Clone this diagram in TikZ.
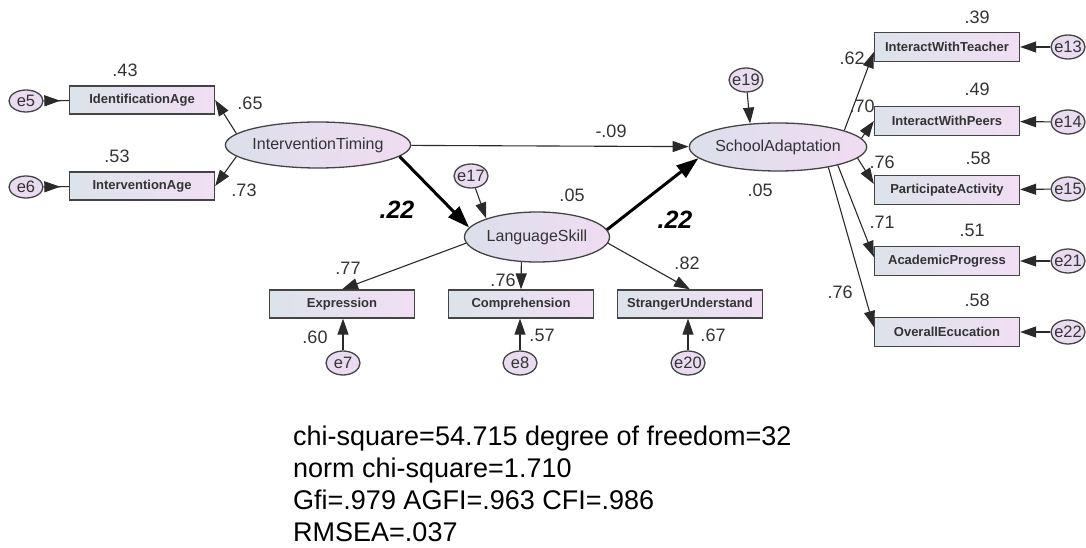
\documentclass[tikz,border=0pt]{standalone}
\usepackage{fontspec}
\setmainfont{Liberation Sans}
\usetikzlibrary{arrows.meta,shapes.geometric,calc,decorations.markings}

\definecolor{edgec}{HTML}{444444}
\definecolor{linec}{HTML}{2A2A2A}
\definecolor{textc}{HTML}{333333}
\definecolor{boxL}{HTML}{DCE3EA}
\definecolor{boxR}{HTML}{F1DEF4}
\definecolor{latL}{HTML}{DCDFEB}
\definecolor{latR}{HTML}{F0DCF2}
\definecolor{errc}{HTML}{E9DCF1}

% zero-width label so that the error ellipses keep their fixed size
\newcommand{\slim}[1]{\makebox[0pt]{#1}}

\tikzset{
  obs/.style={rectangle, draw=edgec, line width=1.3pt, left color=boxL, right color=boxR,
    minimum width=145pt, minimum height=28pt, inner sep=0pt,
    font=\fontsize{13}{15}\selectfont\bfseries, text=textc},
  lat/.style={ellipse, draw=edgec, line width=1.3pt, left color=latL, right color=latR,
    inner sep=0pt, font=\fontsize{16}{18}\selectfont, text=textc},
  err/.style={ellipse, draw=edgec, line width=1.3pt, fill=errc, minimum width=34pt,
    minimum height=24pt, inner sep=0pt, font=\fontsize{16.5}{18}\selectfont, text=textc},
  coef/.style={inner sep=0pt, font=\fontsize{18}{20}\selectfont, text=textc},
  bigcoef/.style={inner sep=0pt, font=\fontsize{25}{27}\selectfont\bfseries\itshape, text=black},
  link/.style={draw=linec, line width=1.1pt, -{Triangle[length=16pt,width=11pt]}},
  boldlink/.style={draw=black, line width=3pt, -{Triangle[length=22pt,width=15pt]}},
  errmid/.style={draw=linec, line width=1.1pt, postaction={decorate},
    decoration={markings, mark=at position 0.66 with {\arrow{Triangle[length=16pt,width=11pt]}}}},
  stat/.style={inner sep=0pt, anchor=base west, font=\fontsize{27}{32}\selectfont, text=black},
}

\begin{document}
\begin{tikzpicture}[x=1pt,y=-1pt]
\useasboundingbox (0,0) rectangle (1086,548);

% latent variables
\node[lat, minimum width=146pt, minimum height=46pt] (it) at (318,145) {InterventionTiming};
\node[lat, minimum width=145pt, minimum height=50pt] (ls) at (537,237) {LanguageSkill};
\node[lat, minimum width=144pt, minimum height=48pt] (sa) at (778,147) {SchoolAdaptation};

% indicators of InterventionTiming
\node[obs] (ia)   at (142,100) {IdentificationAge};
\node[obs] (iage) at (142,186) {InterventionAge};
\node[err, minimum height=22pt] (e5) at (26,101) {\slim{e5}};
\node[err, minimum height=22pt] (e6) at (26,187) {\slim{e6}};

% indicators of LanguageSkill
\node[obs] (expr) at (342,304) {Expression};
\node[obs] (comp) at (521,304) {Comprehension};
\node[obs] (strg) at (690,304) {StrangerUnderstand};
\node[err] (e7)  at (343,363) {\slim{e7}};
\node[err] (e8)  at (520,363) {\slim{e8}};
\node[err] (e20) at (688,363) {\slim{e20}};

% indicators of SchoolAdaptation
\node[obs, minimum height=29pt] (iwt) at (947,47)  {InteractWithTeacher};
\node[obs, minimum height=29pt] (iwp) at (947,121) {InteractWithPeers};
\node[obs, minimum height=29pt] (pa)  at (947,190) {ParticipateActivity};
\node[obs, minimum height=29pt] (ap)  at (947,261) {AcademicProgress};
\node[obs, minimum height=29pt] (oe)  at (947,332) {OverallEcucation};
\node[err] (e13) at (1068,47)  {\slim{e13}};
\node[err] (e14) at (1068,122) {\slim{e14}};
\node[err] (e15) at (1068,189) {\slim{e15}};
\node[err] (e21) at (1068,261) {\slim{e21}};
\node[err] (e22) at (1068,332) {\slim{e22}};

% disturbances
\node[err] (e17) at (471,176) {\slim{e17}};
\node[err] (e19) at (746,80)  {\slim{e19}};

% measurement paths
\draw[errmid] (e5) -- (ia);
\draw[errmid] (e6) -- (iage);
\draw[link] (it.172) -- (ia.east);
\draw[link] (it.188) -- (iage.east);

\draw[link] (ls.185) -- (expr.north);
\draw[link] (ls.238) -- (comp.north);
\draw[link] (ls.-5) -- (strg.north);
\draw[link] (e7) -- (e7 |- expr.south);
\draw[link] (e8) -- (e8 |- comp.south);
\draw[link] (e20) -- (e20 |- strg.south);

\draw[link] (sa.14)  -- ($(iwt.west)+(0,5)$);
\draw[link] (sa.6)   -- (iwp.west);
\draw[link] (sa.-8)  -- ($(pa.west)+(0,-6)$);
\draw[link] (sa.-17) -- ($(ap.west)+(0,-4)$);
\draw[link] (sa.-22) -- ($(oe.west)+(0,-5)$);
\draw[link] (e13) -- (iwt);
\draw[link] (e14) -- (iwp);
\draw[link] (e15) -- (pa);
\draw[link] (e21) -- (ap);
\draw[link] (e22) -- (oe);

% structural paths
\draw[link] (it) -- (sa);
\draw[boldlink] (it.-8) -- (ls.172);
\draw[boldlink] (ls.6) -- (sa.188);
\draw[link] (e17) -- (ls.160);
\draw[link] (e19) -- (sa.140);

% coefficients
\node[coef] (c43) at (125,70)  {.43};
\node[coef] (c65) at (250,103) {.65};
\node[coef] (c53) at (117,156) {.53};
\node[coef] (c73) at (244,190) {.73};
\node[bigcoef] (b1) at (397,210) {.22};
\node[bigcoef] (b2) at (675,220) {.22};
\node[coef] (c05a) at (572,195) {.05};
\node[coef] (c09)  at (611,131) {-.09};
\node[coef] (c05b) at (760,190) {.05};
\node[coef] (c77) at (348,268) {.77};
\node[coef] (c76a) at (503,280) {.76};
\node[coef] (c82) at (687,263) {.82};
\node[coef] (c60) at (315,337) {.60};
\node[coef] (c57) at (542,335) {.57};
\node[coef] (c67) at (713,335) {.67};
\node[coef] (c62) at (852,58)  {.62};
\node[coef] (c70) at (862,106) {.70};
\node[coef] (c76b) at (882,162) {.76};
\node[coef] (c71) at (882,222) {.71};
\node[coef] (c76c) at (840,292) {.76};
\node[coef] (c39) at (977,17)  {.39};
\node[coef] (c49) at (977,89)  {.49};
\node[coef] (c58a) at (978,158) {.58};
\node[coef] (c51) at (972,230) {.51};
\node[coef] (c58b) at (977,300) {.58};

% fit statistics
\node[stat] (s1) at (293,445) {chi-square=54.715 degree of freedom=32};
\node[stat] (s2) at (293,477) {norm chi-square=1.710};
\node[stat] (s3) at (293,509) {Gfi=.979 AGFI=.963 CFI=.986};
\node[stat] (s4) at (293,541) {RMSEA=.037};
\end{tikzpicture}
\end{document}
